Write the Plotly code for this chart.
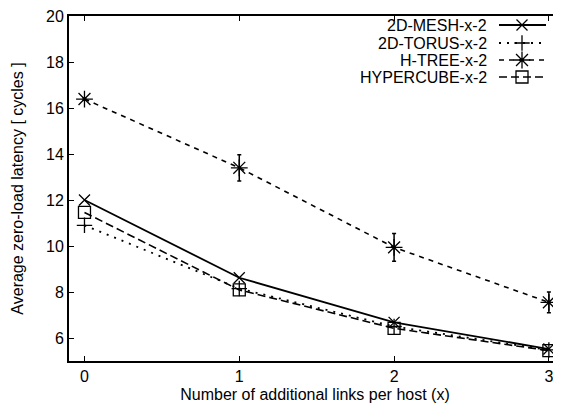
import plotly.graph_objects as go

# ---- data ----
x_links = [0, 1, 2, 3]
mesh = [12.0, 8.62, 6.68, 5.52]
torus = [10.9, 8.15, 6.5, 5.48]
htree = [16.39, 13.4, 9.94, 7.55]
htree_err = [0.05, 0.57, 0.6, 0.45]
hypercube = [11.46, 8.09, 6.42, 5.45]

series_names = ["2D-MESH-x-2", "2D-TORUS-x-2", "H-TREE-x-2", "HYPERCUBE-x-2"]
y_ticks = [6, 8, 10, 12, 14, 16, 18, 20]
x_ticks = [0, 1, 2, 3]

FONT = "Liberation Sans, Arial, Helvetica, sans-serif"
PAGE_OFF = 8               # default body margin of the html page
W, H = 561 - PAGE_OFF, 412 - PAGE_OFF
L, T = 69 - PAGE_OFF, 16 - PAGE_OFF
PLOT_BOTTOM = 361 - PAGE_OFF
B, R = H - PLOT_BOTTOM, 0

styles = [
    dict(dash="solid", symbol="x-thin-open", size=11, width=1.8),
    dict(dash="2px,6px", symbol="cross-thin-open", size=11, width=1.8),
    dict(dash="5px,5px", symbol="asterisk-open", size=14, width=1.6),
    dict(dash="8px,4px", symbol="square-open", size=12, width=1.6),
]
values = [mesh, torus, htree, hypercube]
errors = [None, None, htree_err, None]

fig = go.Figure()
for name, vals, err, st in zip(series_names, values, errors, styles):
    tr = go.Scatter(
        x=x_links, y=vals, name=name, mode="lines+markers",
        line=dict(color="black", width=st["width"], dash=st["dash"]),
        marker=dict(symbol=st["symbol"], size=st["size"], color="black",
                    line=dict(color="black", width=1.3)),
        showlegend=False,
    )
    if err is not None:
        tr.error_y = dict(type="data", array=err, visible=True, color="black",
                          thickness=1.5, width=2)
    fig.add_trace(tr)

# legend keys drawn on an overlay axis measured in page pixels (gnuplot style: text then sample)
plot_w = W - L - R
row_y = [25, 43, 60, 77]
for name, st, yy in zip(series_names, styles, row_y):
    fig.add_trace(go.Scatter(
        x=[499, 546], y=[yy, yy], mode="lines", xaxis="x2", yaxis="y2",
        line=dict(color="black", width=st["width"], dash=st["dash"]),
        showlegend=False, hoverinfo="skip"))
    fig.add_trace(go.Scatter(
        x=[522], y=[yy], mode="markers", xaxis="x2", yaxis="y2",
        marker=dict(symbol=st["symbol"], size=st["size"], color="black",
                    line=dict(color="black", width=1.3)),
        showlegend=False, hoverinfo="skip"))
    fig.add_annotation(x=489, y=yy, xref="x2", yref="y2", text=name,
                       showarrow=False, xanchor="right", yanchor="middle",
                       font=dict(family=FONT, size=16, color="black"))

fig.update_layout(
    width=W, height=H,
    margin=dict(l=L, r=R, t=T, b=B),
    paper_bgcolor="white", plot_bgcolor="white",
    font=dict(family=FONT, size=16, color="black"),
    xaxis=dict(
        range=[-0.1, -0.1 + plot_w / 154.8],
        tickvals=x_ticks, ticks="inside", ticklen=5, tickwidth=1,
        tickcolor="black", showline=True, linecolor="black", linewidth=2,
        mirror="ticks", showgrid=False, zeroline=False,
        title=dict(text="Number of additional links per host (x)",
                   font=dict(size=16), standoff=5),
        tickfont=dict(size=16),
    ),
    yaxis=dict(
        range=[5, 20], tickvals=y_ticks, ticks="inside", ticklen=5, tickwidth=1,
        tickcolor="black", showline=True, linecolor="black", linewidth=2,
        showgrid=False, zeroline=False, ticklabeloverflow="allow",
        title=dict(text="Average zero-load latency [ cycles ]",
                   font=dict(size=16), standoff=18),
        tickfont=dict(size=16),
    ),
    xaxis2=dict(overlaying="x", range=[69, 561], visible=False, fixedrange=True),
    yaxis2=dict(overlaying="y", range=[361, 16], visible=False, fixedrange=True),
    showlegend=False,
)

fig.write_html("out.html")
